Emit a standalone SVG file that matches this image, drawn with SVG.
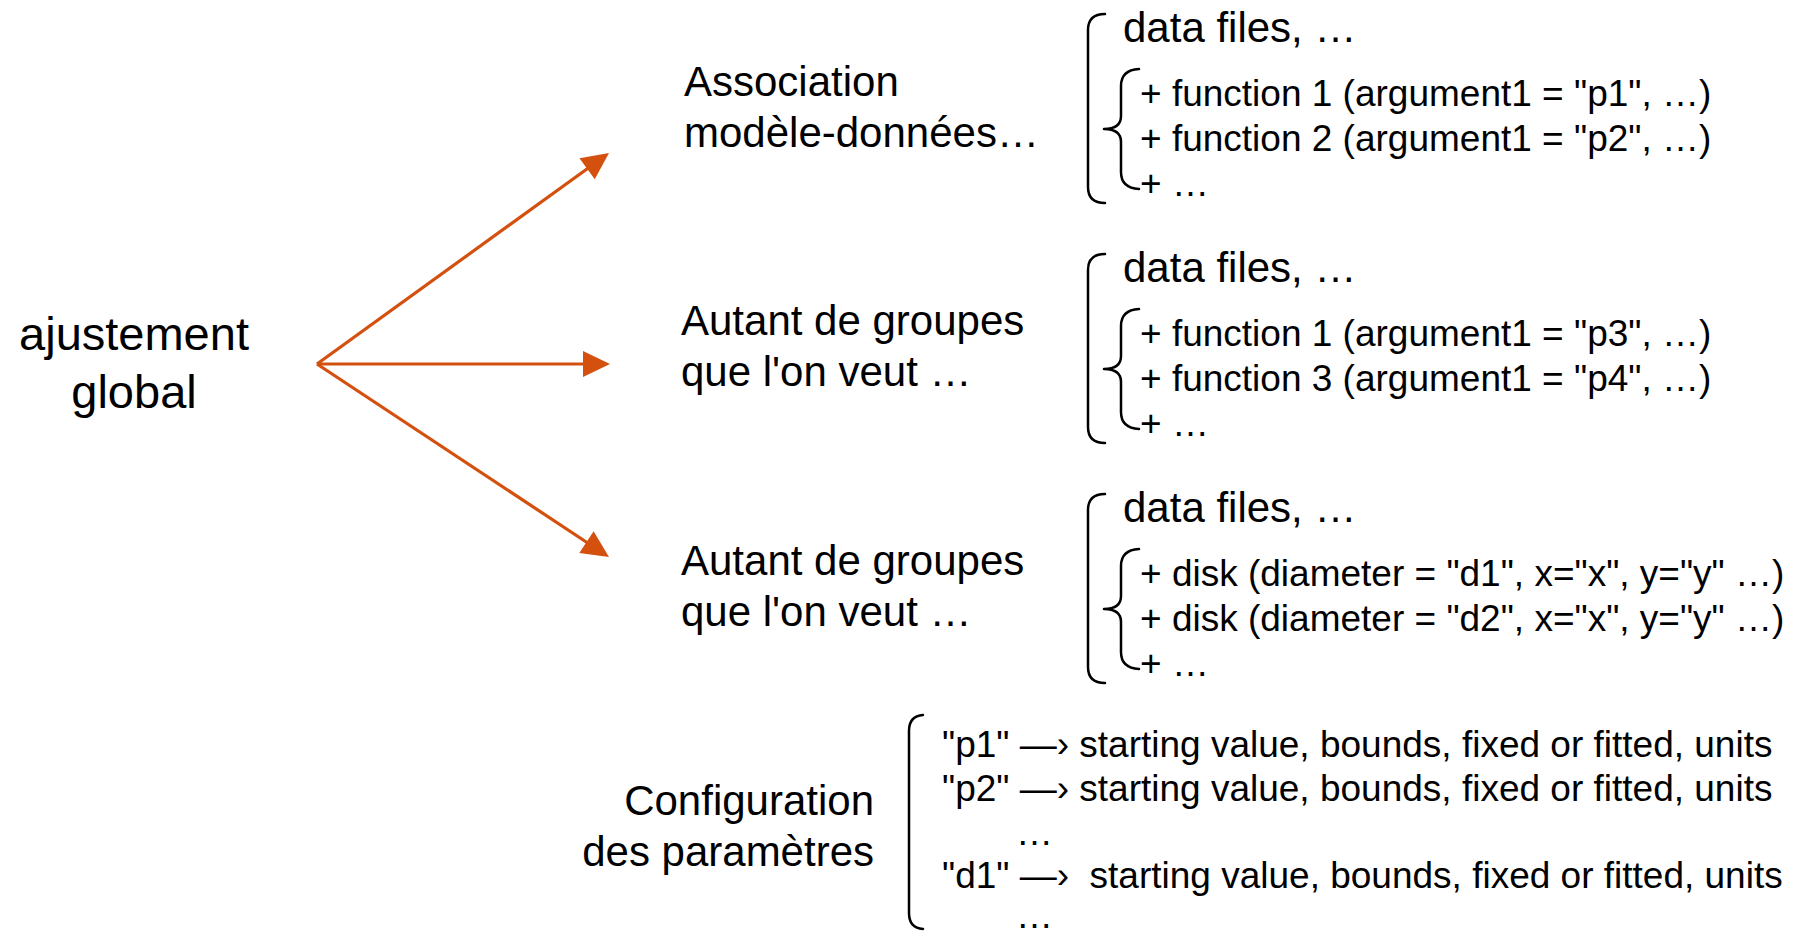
<svg xmlns="http://www.w3.org/2000/svg" xmlns:xlink="http://www.w3.org/1999/xlink" width="1811" height="937" viewBox="0 0 1811 937">
  <style>
    text { font-family: "Liberation Sans", Arial, Helvetica, sans-serif; fill: #000; }
    .root { font-size: 47px; text-anchor: middle; }
    .label { font-size: 42px; }
    .head { font-size: 42px; }
    .item { font-size: 37px; }
    .cfg { font-size: 42px; text-anchor: end; }
    .brk { fill: none; stroke: #000; stroke-width: 2.5; stroke-linecap: round; stroke-linejoin: round; }
    .edge { fill: none; stroke: #D4500F; stroke-width: 3.2; marker-end: url(#head); }
  </style>
  <defs>
    <marker id="head" markerUnits="userSpaceOnUse" markerWidth="27" markerHeight="26" refX="7" refY="13" orient="auto" overflow="visible">
      <path d="M0,0 L27,13 L0,26 Z" fill="#D4500F"/>
    </marker>
    <!-- large square bracket spanning a whole group -->
    <path id="outer" class="brk" d="M1105,14 Q1088,14 1088,30 L1088,187 Q1088,203 1105,203"/>
    <!-- curly brace for the component list -->
    <path id="brace" class="brk" d="M1139,69 Q1121,70 1121,86 L1121,116 Q1121,129 1104,129 Q1121,129 1121,142 L1121,172 Q1121,188 1139,189"/>
  </defs>

  <g id="root">
    <text class="root" x="134" y="350">ajustement</text>
    <text class="root" x="134" y="408">global</text>
  </g>

  <g id="connectors">
    <line class="edge" x1="317" y1="364" x2="592.8" y2="164.7"/>
    <line class="edge" x1="317" y1="364" x2="590" y2="364"/>
    <line class="edge" x1="317" y1="364" x2="592.3" y2="546"/>
  </g>

  <g id="group1">
    <text class="label" x="684" y="96">Association</text>
    <text class="label" x="684" y="147">modèle-données…</text>
    <use xlink:href="#outer"/>
    <use xlink:href="#brace"/>
    <text class="head" x="1123" y="42">data files, …</text>
    <text class="item" x="1140" y="106">+ function 1 (argument1 = "p1", …)</text>
    <text class="item" x="1140" y="151">+ function 2 (argument1 = "p2", …)</text>
    <text class="item" x="1140" y="196">+ …</text>
  </g>

  <g id="group2" transform="translate(0,240)">
    <text class="label" x="681" y="95">Autant de groupes</text>
    <text class="label" x="681" y="146">que l'on veut …</text>
    <use xlink:href="#outer"/>
    <use xlink:href="#brace"/>
    <text class="head" x="1123" y="42">data files, …</text>
    <text class="item" x="1140" y="106">+ function 1 (argument1 = "p3", …)</text>
    <text class="item" x="1140" y="151">+ function 3 (argument1 = "p4", …)</text>
    <text class="item" x="1140" y="196">+ …</text>
  </g>

  <g id="group3" transform="translate(0,480)">
    <text class="label" x="681" y="95">Autant de groupes</text>
    <text class="label" x="681" y="146">que l'on veut …</text>
    <use xlink:href="#outer"/>
    <use xlink:href="#brace"/>
    <text class="head" x="1123" y="42">data files, …</text>
    <text class="item" x="1140" y="106">+ disk (diameter = "d1", x="x", y="y" …)</text>
    <text class="item" x="1140" y="151">+ disk (diameter = "d2", x="x", y="y" …)</text>
    <text class="item" x="1140" y="196">+ …</text>
  </g>

  <g id="parameters">
    <text class="cfg" x="874" y="815">Configuration</text>
    <text class="cfg" x="874" y="866">des paramètres</text>
    <path class="brk" d="M923,715 Q909,716 909,731 L909,913 Q909,928 923,929"/>
    <text class="item" x="942" y="757">"p1" —› starting value, bounds, fixed or fitted, units</text>
    <text class="item" x="942" y="801">"p2" —› starting value, bounds, fixed or fitted, units</text>
    <text class="item" x="1016" y="845">…</text>
    <text class="item" x="942" y="888" xml:space="preserve">"d1" —›  starting value, bounds, fixed or fitted, units</text>
    <text class="item" x="1016" y="928">…</text>
  </g>
</svg>
